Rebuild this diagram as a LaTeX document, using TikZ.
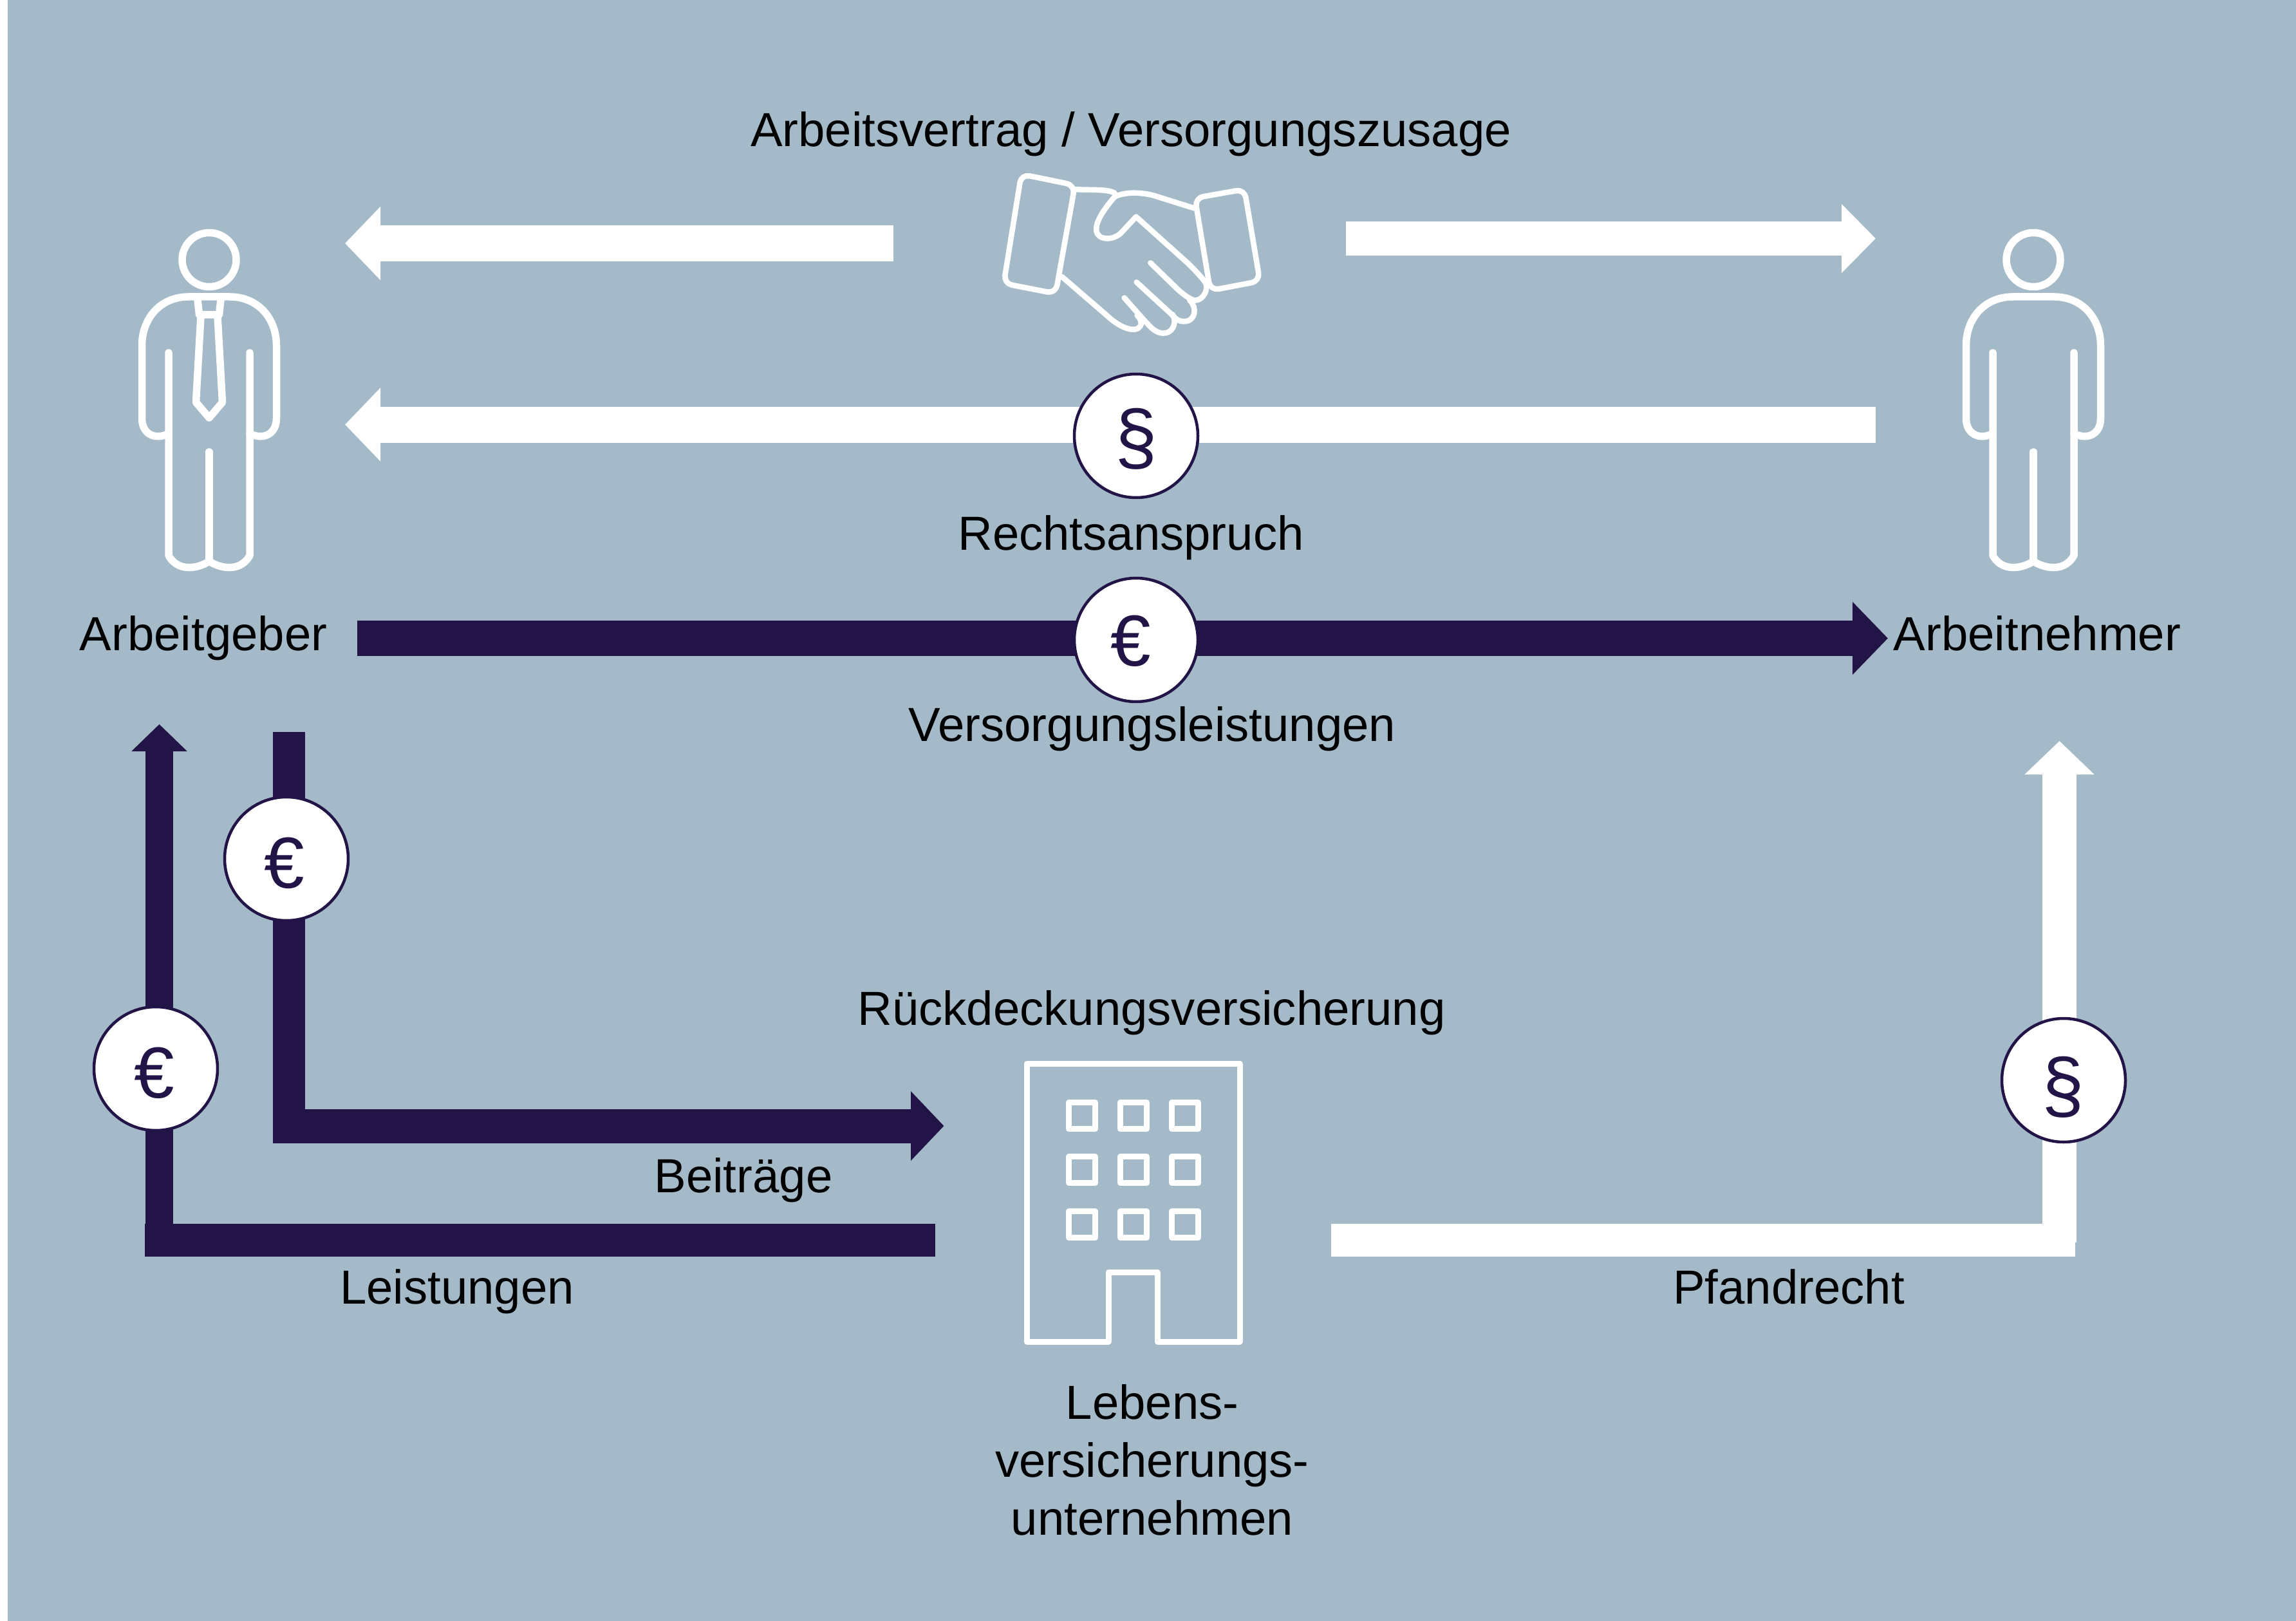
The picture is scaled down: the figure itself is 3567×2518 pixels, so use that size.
\documentclass[tikz,border=0pt]{standalone}
\usepackage{fontspec}
\setmainfont{Liberation Sans}
\usetikzlibrary{arrows.meta}

\definecolor{bluebg}{HTML}{A5BAC8}
\definecolor{navy}{HTML}{231448}

\begin{document}
\begin{tikzpicture}[
    x=0.1mm, y=-0.1mm,
    font=\fontsize{21.15}{25.6}\selectfont,
    textlabel/.style={anchor=base, inner sep=0pt, text=black},
    badge/.style={circle, draw=navy, fill=white, line width=0.45mm, minimum size=19.2mm, inner sep=0pt},
    symbolmark/.style={anchor=base, inner sep=0pt, text=navy, font=\fontsize{32}{32}\selectfont},
    paragraphmark/.style={symbolmark, font=\fontsize{33.5}{33.5}\selectfont},
    flow/.style n args={3}{line width=#1mm, -{Triangle[length=#2mm, width=#3mm]}},
    iconline/.style={draw=white, line width=1.15mm, line cap=round, line join=round},
    handline/.style={draw=white, line width=0.85mm, line cap=round, line join=round},
    pics/person/.style={code={
        \draw[iconline] (0,0) circle (42);
        \draw[iconline] (-63,270) .. controls (-85,281) and (-104.5,270) .. (-104.5,246.5) -- (-104.5,133.5)
            .. controls (-104.5,90) and (-75,57.5) .. (-32,57.5) -- (32,57.5)
            .. controls (75,57.5) and (104.5,90) .. (104.5,133.5) -- (104.5,246.5)
            .. controls (104.5,270) and (85,281) .. (63,270);
        \draw[iconline] (-63,144.5) -- (-63,459.5) .. controls (-50,483) and (-22,482) .. (0,468.5)
            .. controls (22,482) and (50,483) .. (63,459.5) -- (63,144.5);
        \draw[iconline] (0,298.5) -- (0,468.5);
    }},
]

    % Hintergrund
    \useasboundingbox (0,0) rectangle (3567,2518);
    \fill[white] (0,0) rectangle (3567,2518);
    \fill[bluebg] (12,0) rectangle (3567,2518);

    % Endpunkte der Pfeile
    \coordinate (vertrag_l_a) at (1388,378);
    \coordinate (vertrag_l_b) at (536,378);
    \coordinate (vertrag_r_a) at (2091,370.5);
    \coordinate (vertrag_r_b) at (2914,370.5);
    \coordinate (anspruch_a) at (2914,659.5);
    \coordinate (anspruch_b) at (536,659.5);
    \coordinate (versorgung_a) at (555,991.5);
    \coordinate (versorgung_b) at (2933,991.5);
    \coordinate (beitrag_v) at (449,1137);
    \coordinate (beitrag_e) at (449,1775);
    \coordinate (beitrag_a) at (424,1749);
    \coordinate (beitrag_b) at (1466.5,1749);
    \coordinate (leistung_a) at (1453,1926);
    \coordinate (leistung_e) at (225,1926);
    \coordinate (leistung_v) at (247.5,1951);
    \coordinate (leistung_b) at (247.5,1125);
    \coordinate (pfand_a) at (2068,1926);
    \coordinate (pfand_e) at (3224,1926);
    \coordinate (pfand_v) at (3199.5,1930);
    \coordinate (pfand_b) at (3199.5,1151);

    % Weisse Pfeile
    \draw[white, flow={5.6}{5.5}{11.1}] (vertrag_l_a) -- (vertrag_l_b);
    \draw[white, flow={5.3}{5.3}{10.4}] (vertrag_r_a) -- (vertrag_r_b);
    \draw[white, flow={5.6}{5.5}{11.1}] (anspruch_a) -- (anspruch_b);
    \draw[white, line width=5.1mm] (pfand_a) -- (pfand_e);
    \draw[white, flow={5.3}{5.2}{10.5}] (pfand_v) -- (pfand_b);

    % Dunkle Pfeile
    \draw[navy, flow={5.55}{5.5}{11}] (versorgung_a) -- (versorgung_b);
    \draw[navy, line width=5mm] (beitrag_v) -- (beitrag_e);
    \draw[navy, flow={5.3}{5.15}{10.5}] (beitrag_a) -- (beitrag_b);
    \draw[navy, line width=5.1mm] (leistung_a) -- (leistung_e);
    \draw[navy, flow={4.3}{4.2}{8.4}] (leistung_v) -- (leistung_b);

    % Kreise mit Symbolen
    \node[badge] (badge_anspruch) at (1765,677) {};
    \node[badge] (badge_versorgung) at (1765,994) {};
    \node[badge] (badge_beitrag) at (445,1334) {};
    \node[badge] (badge_leistung) at (242,1660) {};
    \node[badge] (badge_pfand) at (3206,1678) {};
    \node[paragraphmark] (sign_anspruch) at (1765,719) {§};
    \node[symbolmark] (sign_versorgung) at (1757,1034) {€};
    \node[symbolmark] (sign_beitrag) at (442,1379) {€};
    \node[symbolmark] (sign_leistung) at (240,1705) {€};
    \node[paragraphmark] (sign_pfand) at (3205,1726) {§};

    % Personen
    \pic at (325,403.5) {person};
    \pic at (3159,403.5) {person};
    \draw[iconline] (307,465) -- (309.5,489) -- (340.5,489) -- (343,465);
    \draw[iconline] (312,491) -- (304.5,625) -- (325,649) -- (345.5,625) -- (338,491);

    % Handschlag
    \begin{scope}[shift={(1500,240)}, scale=1/3]
        \draw[handline, rounded corners=1.3mm] (260,92) -- (510,143) -- (420,648) -- (178,601) -- cycle;
        \draw[handline, rounded corners=1.3mm] (1069,203) -- (1300,162) -- (1372,590) -- (1141,634) -- cycle;
        \draw[handline] (510,163) -- (610,165) .. controls (650,166) and (680,170) .. (695,180);
        \draw[handline] (1065,250) -- (880,192) .. controls (830,178) and (750,170) .. (695,197)
            .. controls (650,250) and (605,310) .. (610,355) .. controls (615,400) and (690,405) .. (730,360)
            -- (795,290) -- (1040,510) .. controls (1060,530) and (1100,570) .. (1120,600)
            .. controls (1135,640) and (1095,690) .. (1060,678) .. controls (1030,665) and (1000,640) .. (970,610)
            -- (862,505);
        \draw[handline] (1045,680) .. controls (1080,710) and (1075,780) .. (1015,778)
            .. controls (990,778) and (975,760) .. (955,740) -- (797,595);
        \draw[handline] (965,745) .. controls (990,790) and (960,835) .. (920,833)
            .. controls (880,830) and (860,800) .. (835,775) -- (740,668);
        \draw[handline] (450,570) -- (670,760) .. controls (720,805) and (790,835) .. (815,800)
            .. controls (825,780) and (810,760) .. (800,750);
    \end{scope}

    % Gebaeude
    \draw[handline, line width=0.9mm] (1722,2084) -- (1722,1976) -- (1798,1976) -- (1798,2084) -- (1926,2084)
        -- (1926,1652) -- (1595,1652) -- (1595,2084) -- cycle;
    \foreach \x in {1681,1761,1841} {
        \foreach \y in {1733,1817,1902} {
            \draw[handline, line width=0.9mm] (\x-20.5,\y-20.5) rectangle (\x+20.5,\y+20.5);
        }
    }

    % Beschriftungen
    \node[textlabel] (vertrag) at (1757,228) {Arbeitsvertrag / Versorgungszusage};
    \node[textlabel] (rechtsanspruch) at (1757,854) {Rechtsanspruch};
    \node[textlabel] (arbeitgeber) at (316,1010) {Arbeitgeber};
    \node[textlabel] (arbeitnehmer) at (3165,1010) {Arbeitnehmer};
    \node[textlabel] (versorgung) at (1790,1151) {Versorgungsleistungen};
    \node[textlabel] (rueckdeckung) at (1789,1592) {Rückdeckungsversicherung};
    \node[textlabel] (beitraege) at (1155,1852) {Beiträge};
    \node[textlabel] (leistungen) at (710,2025) {Leistungen};
    \node[textlabel] (pfandrecht) at (2779,2025) {Pfandrecht};
    \node[textlabel, align=center] (lvu) at (1790,2384) {Lebens-\\versicherungs-\\unternehmen};

\end{tikzpicture}
\end{document}
